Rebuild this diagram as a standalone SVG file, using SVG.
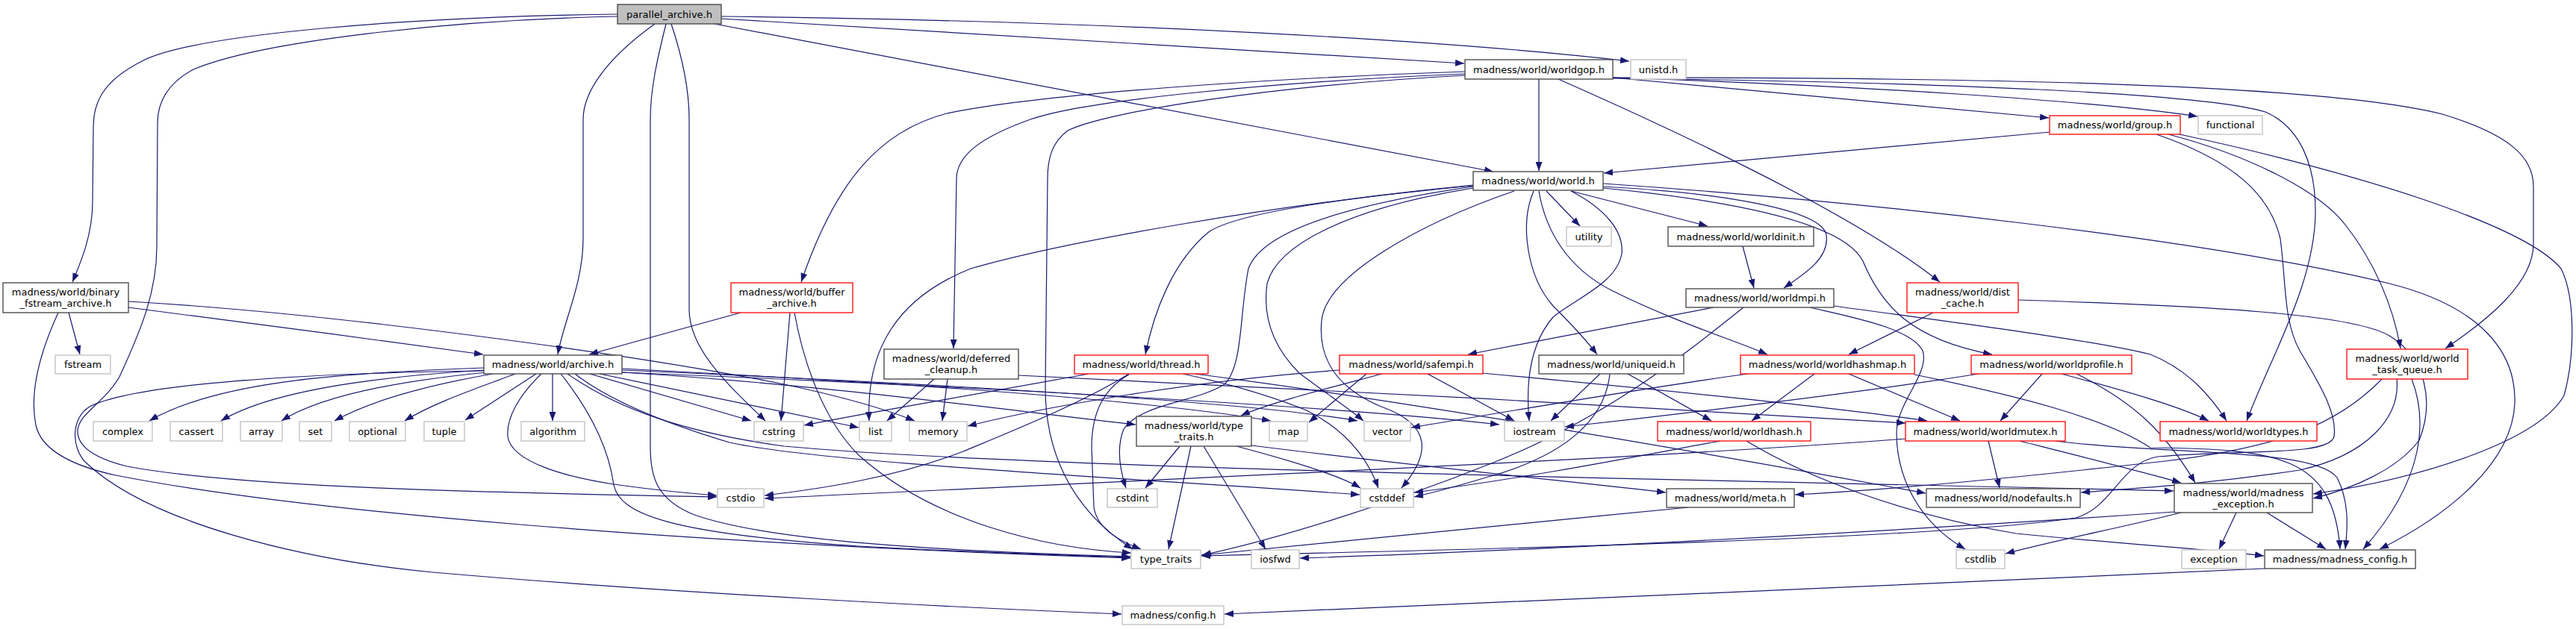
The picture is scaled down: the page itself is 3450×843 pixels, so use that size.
<svg xmlns="http://www.w3.org/2000/svg" width="3450" height="843" viewBox="0 0 3450 843">
<defs>
<marker id="a" viewBox="0 0 12 9" refX="12" refY="4.5" markerWidth="12" markerHeight="9" orient="auto" markerUnits="userSpaceOnUse"><path d="M0,0 L12,4.5 L0,9 z" fill="#191970"/></marker>
<style>
.n rect{fill:#fff;stroke:#404040;stroke-width:1.3}
.x rect{fill:#fff;stroke:#bfbfbf;stroke-width:1.3}
.r rect{fill:#fff;stroke:#ff0000;stroke-width:1.3}
.root rect{fill:#bfbfbf;stroke:#404040;stroke-width:1.3}
text{font-family:"DejaVu Sans","Liberation Sans",sans-serif;font-size:13px;fill:#000;text-anchor:middle}
#edges path{fill:none;stroke:#191970;stroke-width:1.2;marker-end:url(#a)}
</style>
</defs>
<rect width="3450" height="843" fill="#fff"/>
<g id="edges">
<path d="M827,19 C560,22 260,45 190,82 C135,110 125,140 125,170 L124,270 C124,315 108,352 97,378"/>
<path d="M827,22 C600,27 350,55 259,93 C222,113 211,140 211,165 L210,330 C210,390 190,440 160,505 C140,540 104,555 104,578 C104,600 130,615 170,625 C330,655 700,661 960,666"/>
<path d="M877,32 C810,80 781,125 781,160 L781,320 C781,380 755,430 747,475"/>
<path d="M892,32 C880,80 871,120 871,160 L871,600 C871,640 880,670 930,690 C1030,725 1250,738 1514,746"/>
<path d="M899,32 C915,80 923,120 923,160 L923,415 C923,470 980,520 1025,564"/>
<path d="M966,22 C1500,28 1950,55 2182,82"/>
<path d="M966,25 L1961,85"/>
<path d="M957,32 L2000,230"/>
<path d="M92,419 L107,475"/>
<path d="M172,412 C300,428 500,455 647,475"/>
<path d="M172,404 C450,420 850,475 1050,515 C1130,532 1190,550 1225,564"/>
<path d="M78,419 C50,480 40,530 48,570 C56,605 100,625 155,637 C400,685 900,728 1514,748"/>
<path d="M992,419 L789,475"/>
<path d="M1058,419 L1046,564"/>
<path d="M1064,419 C1075,480 1100,560 1150,610 C1250,700 1400,735 1515,741"/>
<path d="M648,493 C450,500 290,512 200,564"/>
<path d="M650,496 C500,505 360,525 296,564"/>
<path d="M652,499 C540,510 430,530 377,564"/>
<path d="M660,501 C580,515 500,535 448,564"/>
<path d="M690,501 C640,520 580,540 542,564"/>
<path d="M718,501 L623,563"/>
<path d="M740,501 L740,564"/>
<path d="M725,501 C695,530 678,560 680,585 C685,620 760,640 829,650 C880,657 920,661 960,664"/>
<path d="M790,501 L1006,564"/>
<path d="M803,501 L1150,573"/>
<path d="M833,494 C1100,508 1500,530 1702,564"/>
<path d="M833,496 C1200,512 1650,535 1818,564"/>
<path d="M833,499 C1300,518 1800,545 2008,569"/>
<path d="M833,499 C1100,515 1350,550 1521,569"/>
<path d="M751,501 C790,550 815,600 822,650 C830,690 900,715 1150,732 C1300,740 1450,745 1514,747"/>
<path d="M648,497 C400,500 180,515 120,545 C95,560 95,600 115,620 C200,700 400,750 580,767 C900,795 1300,815 1502,823"/>
<path d="M770,501 C820,540 900,570 977,593 C1100,620 1500,640 1821,663"/>
<path d="M760,501 C830,550 920,580 1050,598 C1400,630 2400,645 2911,658"/>
<path d="M1962,96 C1700,105 1400,125 1268,152 C1180,175 1120,240 1073,378"/>
<path d="M1962,99 C1700,110 1450,135 1380,160 C1310,185 1281,210 1281,240 L1277,467"/>
<path d="M1962,101 C1700,115 1480,150 1430,175 C1410,190 1403,210 1403,240 L1400,520 C1400,600 1430,680 1517,736"/>
<path d="M2061,106 L2061,229"/>
<path d="M2160,104 L2744,158"/>
<path d="M2160,104 C2500,115 2800,135 2943,156"/>
<path d="M2160,104 C2600,104 3100,110 3271,153 C3360,180 3393,210 3393,250 L3393,327 C3393,380 3330,430 3275,467"/>
<path d="M2160,105 C2600,110 2950,125 3034,150 C3080,170 3101,220 3101,283 C3101,380 3040,480 3009,564"/>
<path d="M2087,106 C2300,200 2500,300 2598,378"/>
<path d="M2745,177 L2148,232"/>
<path d="M2904,180 C3000,205 3100,250 3140,300 C3180,350 3205,410 3215,467"/>
<path d="M2919,180 C3150,230 3380,300 3430,360 C3450,400 3448,480 3434,530 C3400,590 3250,640 3098,662"/>
<path d="M2888,180 C2990,215 3040,260 3054,320 C3062,380 3058,430 3080,470 C3110,520 3130,555 3126,585 C3120,612 3000,602 2890,612 C2840,620 2830,680 2780,694 C2600,722 2000,736 1609,745"/>
<path d="M2589,419 L2476,475"/>
<path d="M2703,402 C2950,410 3150,420 3200,450 C3250,480 3260,540 3240,590 C3210,630 3150,655 3098,668"/>
<path d="M2071,256 L2116,303"/>
<path d="M2104,256 L2287,303"/>
<path d="M2147,250 C2300,258 2440,280 2446,315 C2450,345 2420,365 2389,386"/>
<path d="M2147,252 C2330,270 2470,300 2495,350 C2520,410 2560,455 2668,475"/>
<path d="M2061,256 C2070,310 2100,360 2160,390 C2240,430 2320,455 2367,475"/>
<path d="M2054,256 C2035,300 2045,370 2080,410 C2100,430 2120,450 2139,475"/>
<path d="M2104,256 C2150,280 2175,310 2172,340 C2165,380 2110,400 2080,425 C2050,460 2043,510 2048,564"/>
<path d="M2028,256 C1900,300 1775,370 1770,430 C1765,480 1790,520 1850,545 C1920,570 1915,610 1877,654"/>
<path d="M1973,248 C1700,275 1420,325 1300,360 C1200,400 1160,470 1164,564"/>
<path d="M1973,249 C1800,265 1660,285 1620,310 C1570,350 1545,420 1534,475"/>
<path d="M1973,250 C1800,275 1690,310 1672,360 C1660,420 1665,490 1640,515 C1600,540 1530,540 1505,575 C1495,600 1500,630 1508,654"/>
<path d="M1973,252 C1800,280 1710,330 1697,380 C1690,430 1710,470 1740,500 C1780,530 1810,550 1826,564"/>
<path d="M2147,246 C2500,270 2950,320 3200,380 C3320,410 3370,470 3368,540 C3365,620 3280,690 3187,736"/>
<path d="M2334,330 L2349,386"/>
<path d="M2295,412 L1966,475"/>
<path d="M2335,412 C2250,480 2150,560 2000,620 C1850,680 1700,725 1610,744"/>
<path d="M2424,412 C2480,425 2560,440 2575,470 C2585,500 2540,540 2540,580 C2540,640 2570,700 2632,736"/>
<path d="M2456,410 C2600,430 2800,455 2880,475 C2930,495 2960,530 2982,564"/>
<path d="M1251,508 L1188,564"/>
<path d="M1269,508 L1262,564"/>
<path d="M1364,503 C1700,518 2200,545 2552,567"/>
<path d="M1458,501 C1300,530 1150,555 1077,570"/>
<path d="M1512,501 C1450,540 1350,580 1290,605 C1200,640 1100,655 1024,664"/>
<path d="M1512,502 C1480,520 1462,550 1462,600 L1465,680 C1470,710 1500,725 1528,736"/>
<path d="M1584,501 C1650,515 1700,530 1750,550 C1800,575 1830,610 1846,654"/>
<path d="M1600,501 C1900,540 2300,610 2579,661"/>
<path d="M1851,501 C1780,520 1700,540 1662,557"/>
<path d="M1912,501 L2028,564"/>
<path d="M1984,500 C2200,520 2450,545 2581,564"/>
<path d="M1830,501 L1753,566"/>
<path d="M1794,496 C1600,510 1400,545 1296,571"/>
<path d="M2143,501 L2077,564"/>
<path d="M2156,501 C2150,560 2100,610 1990,640 C1950,652 1920,660 1894,666"/>
<path d="M2180,501 L2292,564"/>
<path d="M2430,501 L2346,564"/>
<path d="M2476,501 L2625,564"/>
<path d="M2341,501 C2200,520 2000,555 1890,573"/>
<path d="M2564,502 C2700,530 2820,560 2880,600 C3050,602 3125,610 3134,736"/>
<path d="M2735,501 L2679,564"/>
<path d="M2761,501 C2850,525 2920,545 2958,564"/>
<path d="M2781,501 C2860,540 2900,580 2940,647"/>
<path d="M2650,501 C2500,525 2250,555 2096,572"/>
<path d="M2663,591 L2678,654"/>
<path d="M2705,591 C2800,615 2880,635 2921,647"/>
<path d="M2753,591 C2900,610 3100,600 3130,640 C3145,670 3145,700 3141,736"/>
<path d="M2552,588 C2200,615 1500,645 1024,668"/>
<path d="M2304,591 C2200,610 2050,640 1894,660"/>
<path d="M2339,591 C2420,640 2550,690 2700,715 C2850,730 2950,735 3032,745"/>
<path d="M2261,680 C2000,705 1700,735 1609,744"/>
<path d="M1580,598 L1534,654"/>
<path d="M1595,598 L1565,736"/>
<path d="M1612,598 L1695,736"/>
<path d="M1676,597 C1900,625 2100,645 2231,660"/>
<path d="M1656,598 C1720,615 1790,635 1822,654"/>
<path d="M2995,687 L2972,736"/>
<path d="M3036,687 L3115,736"/>
<path d="M2921,687 C2850,705 2750,725 2686,742"/>
<path d="M2912,686 C2500,715 2000,740 1741,748"/>
<path d="M3230,508 C3250,560 3250,640 3165,736"/>
<path d="M3210,508 C3215,560 3170,610 3080,630 C2950,650 2850,655 2787,660"/>
<path d="M3190,508 C3130,570 3050,600 2900,618 C2700,640 2550,655 2404,663"/>
<path d="M3033,762 C2600,780 2000,810 1640,823"/>
</g>
<g id="n_root" class="root"><rect x="827" y="6" width="139" height="26"/><text x="896.5" y="23.5">parallel_archive.h</text></g>
<g id="n_binary" class="n"><rect x="4" y="379" width="168" height="40"/><text x="88" y="396">madness/world/binary</text><text x="88" y="411">_fstream_archive.h</text></g>
<g id="n_buffer" class="r"><rect x="979" y="379" width="163" height="40"/><text x="1060.5" y="396">madness/world/buffer</text><text x="1060.5" y="411">_archive.h</text></g>
<g id="n_worldgop" class="n"><rect x="1962" y="80" width="198" height="26"/><text x="2061" y="97.5">madness/world/worldgop.h</text></g>
<g id="n_unistd" class="x"><rect x="2184" y="80" width="74" height="26"/><text x="2221" y="97.5">unistd.h</text></g>
<g id="n_world" class="n"><rect x="1973" y="230" width="174" height="25"/><text x="2060" y="247">madness/world/world.h</text></g>
<g id="n_utility" class="x"><rect x="2098" y="304" width="60" height="26"/><text x="2128" y="321.5">utility</text></g>
<g id="n_worldinit" class="n"><rect x="2234" y="304" width="195" height="26"/><text x="2331.5" y="321.5">madness/world/worldinit.h</text></g>
<g id="n_worldmpi" class="n"><rect x="2258" y="387" width="198" height="25"/><text x="2357" y="404">madness/world/worldmpi.h</text></g>
<g id="n_group" class="r"><rect x="2745" y="155" width="175" height="25"/><text x="2832.5" y="172">madness/world/group.h</text></g>
<g id="n_functional" class="x"><rect x="2944" y="155" width="86" height="25"/><text x="2987" y="172">functional</text></g>
<g id="n_dist_cache" class="r"><rect x="2554" y="379" width="149" height="40"/><text x="2628.5" y="396">madness/world/dist</text><text x="2628.5" y="411">_cache.h</text></g>
<g id="n_fstream" class="x"><rect x="74" y="476" width="74" height="25"/><text x="111" y="493">fstream</text></g>
<g id="n_archive" class="n"><rect x="648" y="476" width="185" height="25"/><text x="740.5" y="493">madness/world/archive.h</text></g>
<g id="n_deferred" class="n"><rect x="1184" y="468" width="180" height="40"/><text x="1274" y="485">madness/world/deferred</text><text x="1274" y="500">_cleanup.h</text></g>
<g id="n_thread" class="r"><rect x="1439" y="476" width="179" height="25"/><text x="1528.5" y="493">madness/world/thread.h</text></g>
<g id="n_safempi" class="r"><rect x="1794" y="476" width="192" height="25"/><text x="1890" y="493">madness/world/safempi.h</text></g>
<g id="n_uniqueid" class="n"><rect x="2061" y="476" width="194" height="25"/><text x="2158" y="493">madness/world/uniqueid.h</text></g>
<g id="n_worldhashmap" class="r"><rect x="2331" y="476" width="233" height="25"/><text x="2447.5" y="493">madness/world/worldhashmap.h</text></g>
<g id="n_worldprofile" class="r"><rect x="2640" y="476" width="215" height="25"/><text x="2747.5" y="493">madness/world/worldprofile.h</text></g>
<g id="n_wtq" class="r"><rect x="3143" y="468" width="162" height="40"/><text x="3224" y="485">madness/world/world</text><text x="3224" y="500">_task_queue.h</text></g>
<g id="n_complex" class="x"><rect x="125" y="565" width="79" height="26"/><text x="164.5" y="582.5">complex</text></g>
<g id="n_cassert" class="x"><rect x="228" y="565" width="70" height="26"/><text x="263" y="582.5">cassert</text></g>
<g id="n_array" class="x"><rect x="322" y="565" width="56" height="26"/><text x="350" y="582.5">array</text></g>
<g id="n_set" class="x"><rect x="401" y="565" width="43" height="26"/><text x="422.5" y="582.5">set</text></g>
<g id="n_optional" class="x"><rect x="468" y="565" width="75" height="26"/><text x="505.5" y="582.5">optional</text></g>
<g id="n_tuple" class="x"><rect x="568" y="565" width="54" height="26"/><text x="595" y="582.5">tuple</text></g>
<g id="n_algorithm" class="x"><rect x="698" y="565" width="85" height="26"/><text x="740.5" y="582.5">algorithm</text></g>
<g id="n_cstring" class="x"><rect x="1010" y="565" width="66" height="26"/><text x="1043" y="582.5">cstring</text></g>
<g id="n_list" class="x"><rect x="1151" y="565" width="43" height="26"/><text x="1172.5" y="582.5">list</text></g>
<g id="n_memory" class="x"><rect x="1218" y="565" width="77" height="26"/><text x="1256.5" y="582.5">memory</text></g>
<g id="n_type_traits_h" class="n"><rect x="1522" y="558" width="154" height="40"/><text x="1599" y="575">madness/world/type</text><text x="1599" y="590">_traits.h</text></g>
<g id="n_map" class="x"><rect x="1700" y="565" width="51" height="26"/><text x="1725.5" y="582.5">map</text></g>
<g id="n_vector" class="x"><rect x="1827" y="565" width="62" height="26"/><text x="1858" y="582.5">vector</text></g>
<g id="n_iostream" class="x"><rect x="2015" y="565" width="80" height="26"/><text x="2055" y="582.5">iostream</text></g>
<g id="n_worldhash" class="r"><rect x="2220" y="565" width="205" height="26"/><text x="2322.5" y="582.5">madness/world/worldhash.h</text></g>
<g id="n_worldmutex" class="r"><rect x="2552" y="565" width="214" height="26"/><text x="2659" y="582.5">madness/world/worldmutex.h</text></g>
<g id="n_worldtypes" class="r"><rect x="2893" y="565" width="210" height="26"/><text x="2998" y="582.5">madness/world/worldtypes.h</text></g>
<g id="n_cstdio" class="x"><rect x="961" y="655" width="62" height="25"/><text x="992" y="672">cstdio</text></g>
<g id="n_cstdint" class="x"><rect x="1483" y="655" width="67" height="25"/><text x="1516.5" y="672">cstdint</text></g>
<g id="n_cstddef" class="x"><rect x="1822" y="655" width="71" height="25"/><text x="1857.5" y="672">cstddef</text></g>
<g id="n_meta" class="n"><rect x="2232" y="655" width="171" height="25"/><text x="2317.5" y="672">madness/world/meta.h</text></g>
<g id="n_nodefaults" class="n"><rect x="2580" y="655" width="206" height="25"/><text x="2683" y="672">madness/world/nodefaults.h</text></g>
<g id="n_madness_exception" class="n"><rect x="2912" y="648" width="185" height="39"/><text x="3004.5" y="664.5">madness/world/madness</text><text x="3004.5" y="679.5">_exception.h</text></g>
<g id="n_type_traits" class="x"><rect x="1515" y="737" width="93" height="25"/><text x="1561.5" y="754">type_traits</text></g>
<g id="n_iosfwd" class="x"><rect x="1676" y="737" width="64" height="25"/><text x="1708" y="754">iosfwd</text></g>
<g id="n_cstdlib" class="x"><rect x="2620" y="737" width="65" height="25"/><text x="2652.5" y="754">cstdlib</text></g>
<g id="n_exception" class="x"><rect x="2922" y="737" width="86" height="25"/><text x="2965" y="754">exception</text></g>
<g id="n_madness_config" class="n"><rect x="3033" y="737" width="202" height="25"/><text x="3134" y="754">madness/madness_config.h</text></g>
<g id="n_config" class="x"><rect x="1503" y="812" width="136" height="25"/><text x="1571" y="829">madness/config.h</text></g>
</svg>
